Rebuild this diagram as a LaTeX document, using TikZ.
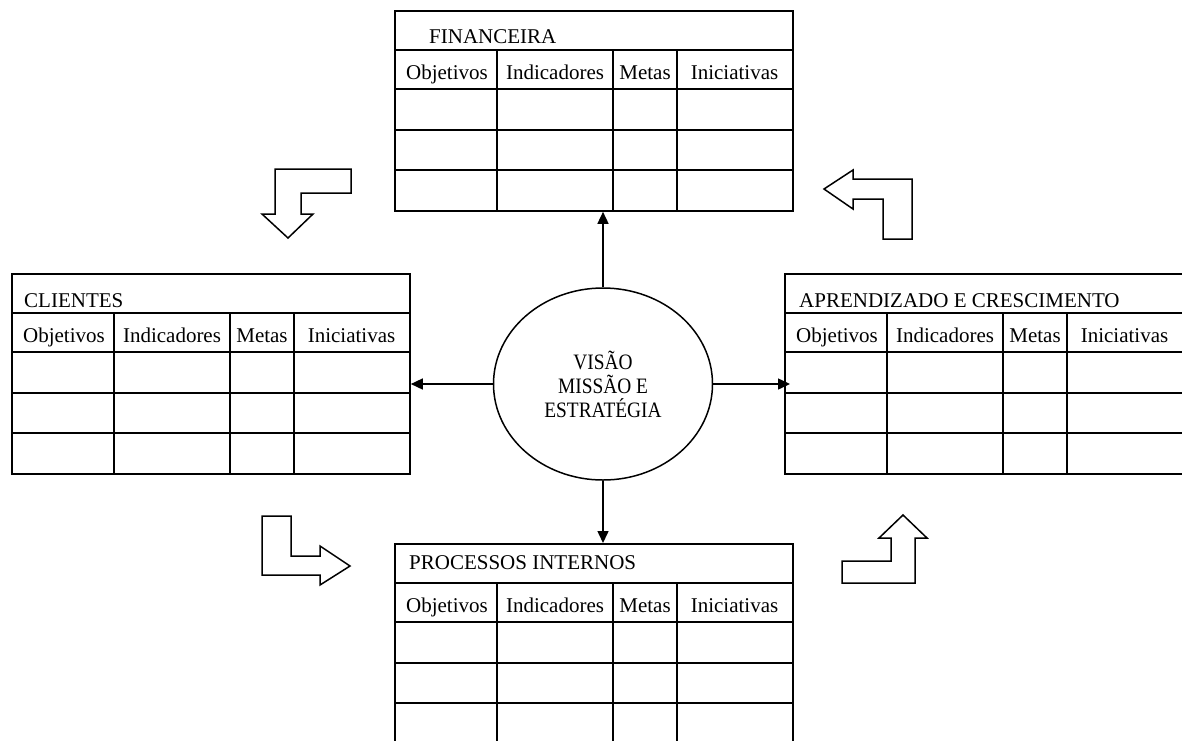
\documentclass[tikz,border=0pt]{standalone}
\usepackage{fontspec}
\setmainfont{Liberation Serif}
\newfontfamily\condserif[FakeStretch=0.88]{Liberation Serif}
\usetikzlibrary{arrows.meta,shapes.geometric}

\tikzset{
  panel/.style={draw, line width=1.8pt, rectangle, minimum width=398pt,
    minimum height=200pt, inner sep=0pt, anchor=north west},
  rule/.style={line width=1.8pt},
  cell/.style={anchor=base, inner sep=0pt, font=\fontsize{21}{25}\selectfont},
  ttl/.style={anchor=base west, inner sep=0pt, font=\fontsize{21}{25}\selectfont},
  core/.style={draw, ellipse, line width=1.5pt, minimum width=219pt,
    minimum height=192pt, inner sep=0pt, align=center,
    font=\condserif\fontsize{22}{24}\selectfont},
  conn/.style={line width=1.5pt, -{Triangle[length=12pt,width=11pt]}},
  turnarrow/.style={draw, line width=1.5pt, line join=miter},
}

% #1 name, #2/#3 top-left corner, #4 title, #5 title indent, #6 title baseline
\newcommand\scorecard[6]{%
  \node[panel] (#1) at (#2,#3) {};
  \foreach \dy in {40,79,120,160}
    \draw[rule] ([yshift=-\dy pt]#1.north west) -- ([yshift=-\dy pt]#1.north east);
  \foreach \dx in {103,219,283}
    \draw[rule] ([shift={(\dx pt,-40pt)}]#1.north west) -- ([xshift=\dx pt]#1.south west);
  \node[ttl] (#1-t) at ([shift={(#5pt,-#6pt)}]#1.north west) {#4};
  \node[cell] (#1-c1) at ([shift={(53pt,-69pt)}]#1.north west) {Objetivos};
  \node[cell] (#1-c2) at ([shift={(161pt,-69pt)}]#1.north west) {Indicadores};
  \node[cell] (#1-c3) at ([shift={(251pt,-69pt)}]#1.north west) {Metas};
  \node[cell] (#1-c4) at ([shift={(340.5pt,-69pt)}]#1.north west) {Iniciativas};
}

\begin{document}
\begin{tikzpicture}[x=1pt,y=-1pt]
  \useasboundingbox (0,0) rectangle (1182,740);
  \clip (0,0) rectangle (1182,740);

  % the four perspectives
  \scorecard{fin}{394}{10}{FINANCEIRA}{35}{33}
  \scorecard{cli}{11}{273}{CLIENTES}{13}{34}
  \scorecard{apr}{784}{273}{APRENDIZADO E CRESCIMENTO}{15}{34}
  \scorecard{pro}{394}{543}{PROCESSOS INTERNOS}{15}{26}

  % centre
  \node[core] (vis) at (603,384) {VISÃO\\MISSÃO E\\ESTRATÉGIA};

  % links from the centre
  \draw[conn] (vis.north) -- (vis.north |- fin.south);
  \draw[conn] (vis.south) -- (vis.south |- pro.north);
  \draw[conn] (vis.west) -- (vis.west -| cli.east);
  \draw[conn] (vis.east) -- ([xshift=6pt]vis.east -| apr.west);

  % bent block arrows of the cycle
  \draw[turnarrow] (275,169) -- (351,169) -- (351,193) -- (301,193) -- (301,214)
    -- (313,214) -- (288,238) -- (262,214) -- (275,214) -- cycle;
  \draw[turnarrow] (824,189) -- (853,170) -- (853,179) -- (912,179) -- (912,239)
    -- (883,239) -- (883,199) -- (853,199) -- (853,209) -- cycle;
  \draw[turnarrow] (262,516) -- (291,516) -- (291,556) -- (320,556) -- (320,546)
    -- (350,566) -- (320,585) -- (320,575) -- (262,575) -- cycle;
  \draw[turnarrow] (903,515) -- (927,538) -- (915,538) -- (915,583) -- (842,583)
    -- (842,561) -- (891,561) -- (891,538) -- (879,538) -- cycle;
\end{tikzpicture}
\end{document}
